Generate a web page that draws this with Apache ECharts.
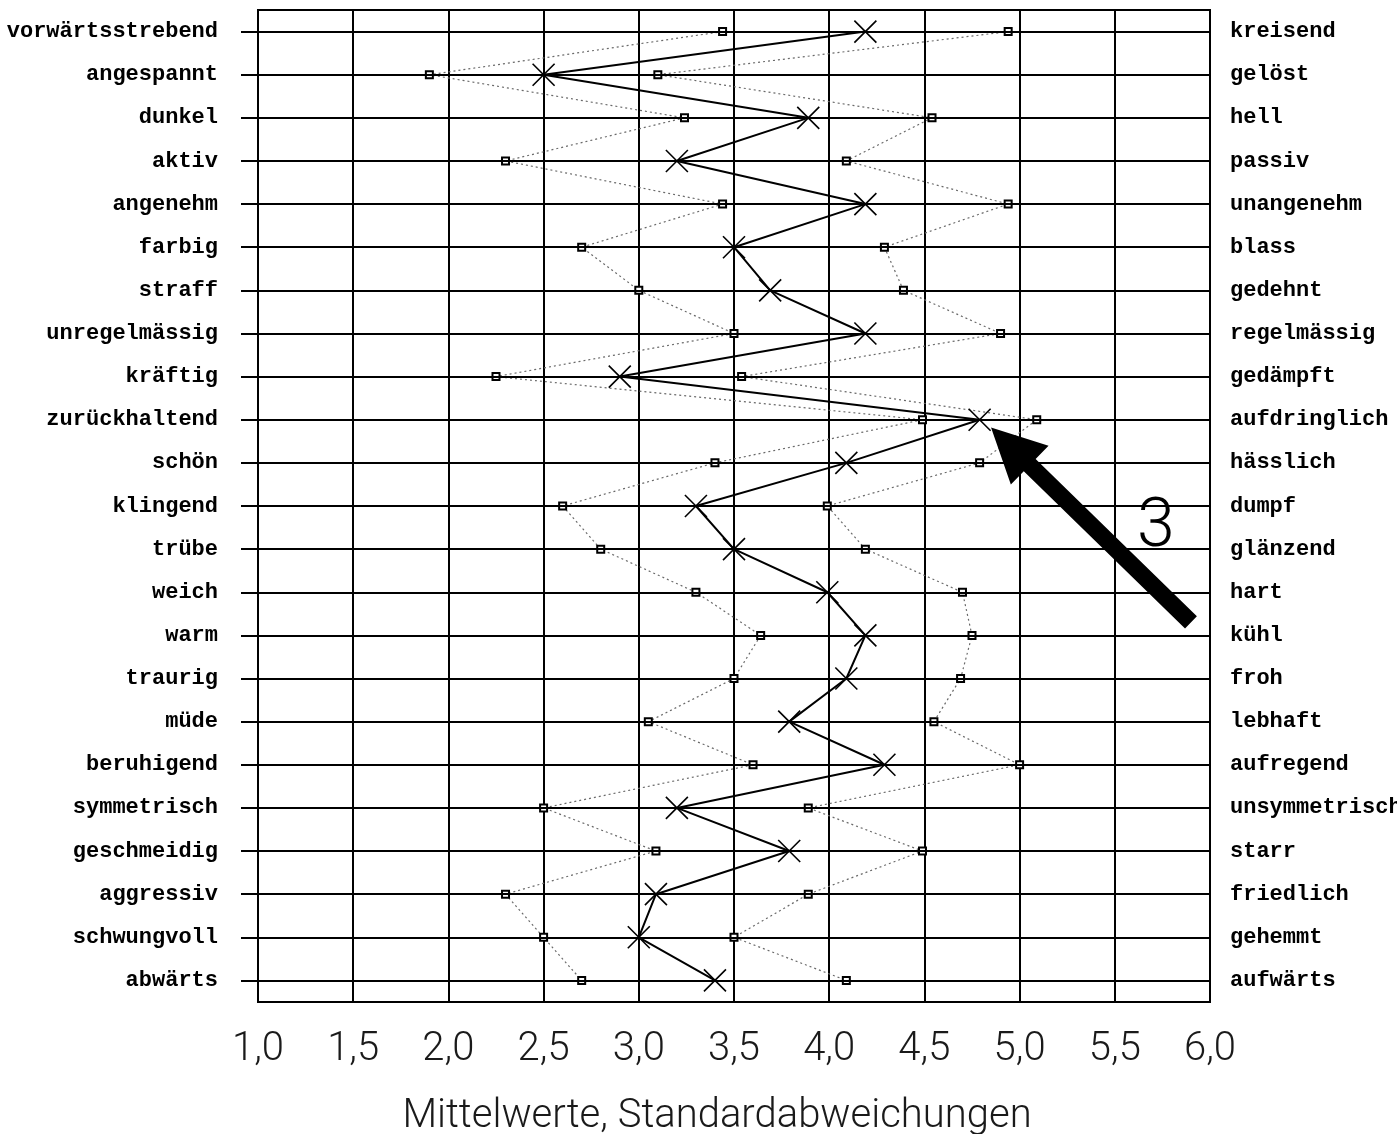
<!DOCTYPE html>
<html>
<head>
<meta charset="utf-8">
<title>Polaritätsprofil</title>
<script src="https://cdn.jsdelivr.net/npm/echarts@6/dist/echarts.min.js"></script>
<style>
  html, body { margin: 0; padding: 0; background: #fff; overflow: hidden; }
  #chart { width: 1397px; height: 1134px; }
</style>
</head>
<body>
<div id="chart"></div>
<script>
// Adjective pairs of the semantic differential (left pole / right pole)
var leftLabels = [
  'vorwärtsstrebend', 'angespannt', 'dunkel', 'aktiv', 'angenehm', 'farbig',
  'straff', 'unregelmässig', 'kräftig', 'zurückhaltend', 'schön', 'klingend',
  'trübe', 'weich', 'warm', 'traurig', 'müde', 'beruhigend', 'symmetrisch',
  'geschmeidig', 'aggressiv', 'schwungvoll', 'abwärts'
];
var rightLabels = [
  'kreisend', 'gelöst', 'hell', 'passiv', 'unangenehm', 'blass',
  'gedehnt', 'regelmässig', 'gedämpft', 'aufdringlich', 'hässlich', 'dumpf',
  'glänzend', 'hart', 'kühl', 'froh', 'lebhaft', 'aufregend', 'unsymmetrisch',
  'starr', 'friedlich', 'gehemmt', 'aufwärts'
];

// Mean ratings per pair
var meanValues = [
  4.19, 2.50, 3.89, 3.20, 4.19, 3.50, 3.69, 4.19, 2.90, 4.79, 4.09, 3.30,
  3.50, 3.99, 4.19, 4.09, 3.79, 4.29, 3.20, 3.79, 3.09, 3.00, 3.40
];
// Mean minus one standard deviation
var lowerValues = [
  3.44, 1.90, 3.24, 2.30, 3.44, 2.70, 3.00, 3.50, 2.25, 4.49, 3.40, 2.60,
  2.80, 3.30, 3.64, 3.50, 3.05, 3.60, 2.50, 3.09, 2.30, 2.50, 2.70
];
// Mean plus one standard deviation
var upperValues = [
  4.94, 3.10, 4.54, 4.09, 4.94, 4.29, 4.39, 4.90, 3.54, 5.09, 4.79, 3.99,
  4.19, 4.70, 4.75, 4.69, 4.55, 5.00, 3.89, 4.49, 3.89, 3.50, 4.09
];

// Scale of the rating axis
var scaleMin = 1.0;
var scaleMax = 6.0;
var scaleStep = 0.5;

// Callout: arrow pointing at the highlighted pair, with its number
// (positions given as [rating, row index])
var calloutTail = [5.90, 13.70];
var calloutTip = [4.85, 9.18];
var calloutText = '3';
var calloutTextPos = [5.715, 11.54];

var labelFont = '"Liberation Mono", "DejaVu Sans Mono", monospace';
var sansFont = 'Roboto, "Liberation Sans", sans-serif';

var chart = echarts.init(document.getElementById('chart'), null, { renderer: 'canvas' });

var crossSymbol = 'path://M0,0L20,20M20,0L0,20';

var option = {
  animation: false,
  backgroundColor: '#fff',
  grid: {
    left: 258, right: 187, top: 10, bottom: 132,
    outerBoundsMode: 'none',
    containLabel: false,
    show: true,
    borderColor: '#000',
    borderWidth: 2,
    backgroundColor: 'transparent'
  },
  xAxis: {
    type: 'value',
    min: scaleMin,
    max: scaleMax,
    interval: scaleStep,
    axisLine: { show: false },
    axisTick: { show: false },
    splitLine: { show: true, lineStyle: { color: '#000', width: 2 } },
    axisLabel: {
      margin: 28,
      fontFamily: sansFont,
      fontWeight: 300,
      fontSize: 40,
      color: '#1a1a1a',
      formatter: function (v) { return v.toFixed(1).replace('.', ','); }
    },
    name: 'Mittelwerte, Standardabweichungen',
    nameLocation: 'middle',
    nameGap: 95,
    nameTextStyle: {
      fontFamily: sansFont,
      fontWeight: 300,
      fontSize: 40,
      color: '#1a1a1a',
      padding: [0, 34, 0, 0]
    }
  },
  yAxis: [
    {
      type: 'category',
      data: leftLabels,
      inverse: true,
      position: 'left',
      axisLine: { show: false },
      axisTick: { show: true, alignWithLabel: true, length: 17, lineStyle: { color: '#000', width: 2 } },
      splitLine: { show: false },
      axisLabel: {
        margin: 40,
        fontFamily: labelFont,
        fontWeight: 'bold',
        fontSize: 22,
        color: '#000',
        padding: [4, 0, 0, 0]
      }
    },
    {
      type: 'category',
      data: rightLabels,
      inverse: true,
      position: 'right',
      axisLine: { show: false },
      axisTick: { show: false },
      splitLine: { show: false },
      axisLabel: {
        margin: 20,
        fontFamily: labelFont,
        fontWeight: 'bold',
        fontSize: 22,
        color: '#000',
        padding: [4, 0, 0, 0]
      }
    }
  ],
  series: [
    {
      // horizontal rule through every adjective pair
      name: 'rows',
      type: 'line',
      data: [],
      z: 1,
      markLine: {
        silent: true,
        symbol: ['none', 'none'],
        label: { show: false },
        lineStyle: { color: '#000', width: 2, type: 'solid' },
        data: leftLabels.map(function (c) { return { yAxis: c }; })
      }
    },
    {
      name: 'Mittelwert − s',
      type: 'line',
      data: lowerValues,
      z: 3,
      symbol: 'rect',
      symbolSize: 7,
      lineStyle: { color: '#6a6a6a', width: 1.2, type: [2, 3] },
      itemStyle: { color: '#fff', borderColor: '#000', borderWidth: 2 }
    },
    {
      name: 'Mittelwert + s',
      type: 'line',
      data: upperValues,
      z: 3,
      symbol: 'rect',
      symbolSize: 7,
      lineStyle: { color: '#6a6a6a', width: 1.2, type: [2, 3] },
      itemStyle: { color: '#fff', borderColor: '#000', borderWidth: 2 }
    },
    {
      name: 'Mittelwert',
      type: 'line',
      data: meanValues,
      z: 5,
      symbol: crossSymbol,
      symbolSize: 22,
      lineStyle: { color: '#000', width: 2 },
      itemStyle: { color: 'none', borderColor: '#000', borderWidth: 1.6 }
    }
  ]
};

chart.setOption(option);

// Map [rating, fractional row index] to pixels; rows are interpolated
// between neighbouring category positions.
function toPx(p) {
  var i0 = Math.floor(p[1]);
  var i1 = Math.min(i0 + 1, leftLabels.length - 1);
  var f = p[1] - i0;
  var a = chart.convertToPixel({ xAxisIndex: 0, yAxisIndex: 0 }, [p[0], i0]);
  var b = chart.convertToPixel({ xAxisIndex: 0, yAxisIndex: 0 }, [p[0], i1]);
  var step = (i1 === i0) ? 0 : (b[1] - a[1]);
  return [a[0], a[1] + f * step];
}

// Arrow callout
function drawCallout() {
  var tail = toPx(calloutTail);
  var tip = toPx(calloutTip);
  var dx = tip[0] - tail[0], dy = tip[1] - tail[1];
  var len = Math.sqrt(dx * dx + dy * dy);
  var ux = dx / len, uy = dy / len;
  var nx = -uy, ny = ux;
  var shaftHalf = 8.5, headLen = 54, headHalf = 27;
  var bx = tip[0] - ux * headLen, by = tip[1] - uy * headLen;
  var pts = [
    [tail[0] + nx * shaftHalf, tail[1] + ny * shaftHalf],
    [bx + nx * shaftHalf, by + ny * shaftHalf],
    [bx + nx * headHalf, by + ny * headHalf],
    [tip[0], tip[1]],
    [bx - nx * headHalf, by - ny * headHalf],
    [bx - nx * shaftHalf, by - ny * shaftHalf],
    [tail[0] - nx * shaftHalf, tail[1] - ny * shaftHalf]
  ];
  var tp = toPx(calloutTextPos);
  chart.setOption({
    graphic: [
      {
        type: 'polygon',
        z: 20,
        shape: { points: pts },
        style: { fill: '#000' }
      },
      {
        type: 'text',
        z: 20,
        x: tp[0],
        y: tp[1],
        style: {
          text: calloutText,
          fontFamily: sansFont,
          fontWeight: 300,
          fontSize: 68,
          fill: '#000',
          align: 'center',
          verticalAlign: 'middle'
        }
      }
    ]
  });
}
drawCallout();
</script>
</body>
</html>
